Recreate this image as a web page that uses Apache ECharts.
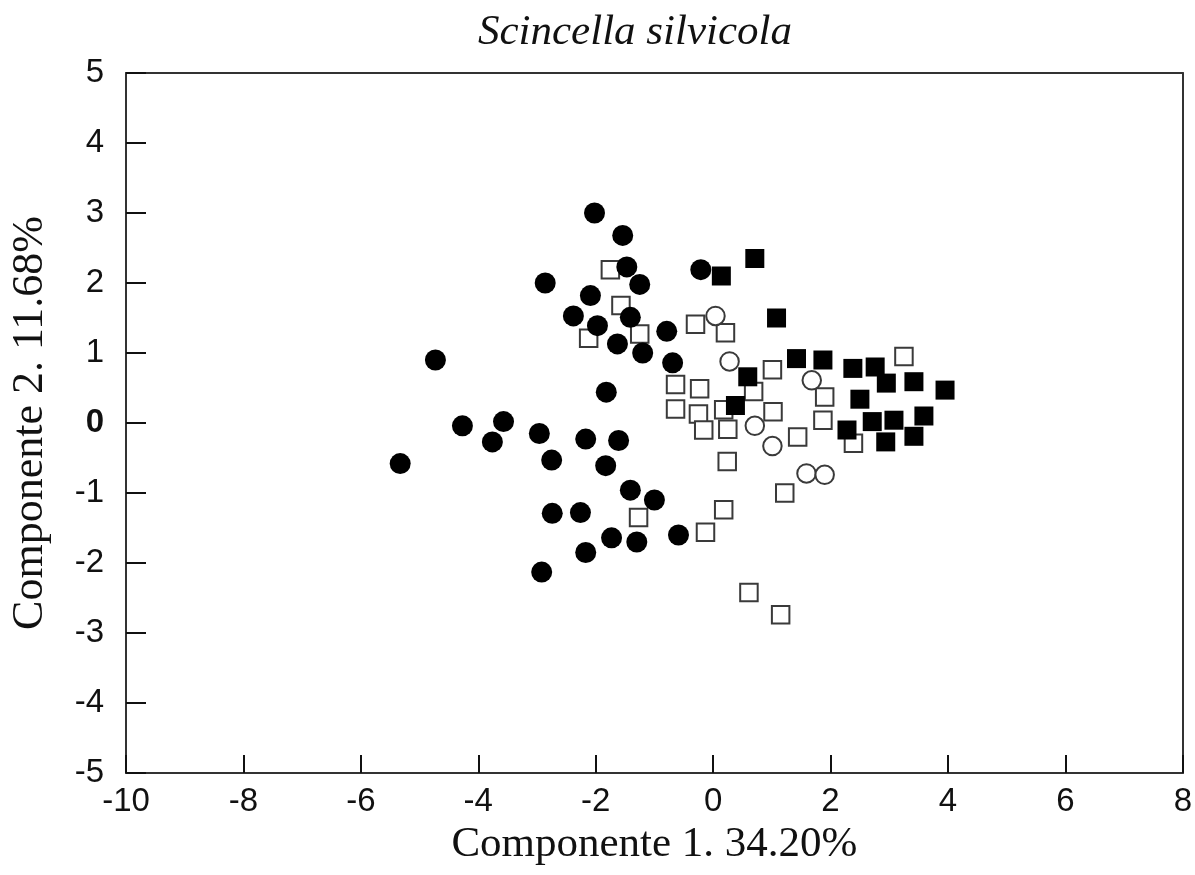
<!DOCTYPE html>
<html>
<head>
<meta charset="utf-8">
<script src="https://cdn.jsdelivr.net/npm/echarts@6/dist/echarts.min.js"></script>
<style>
  html, body { margin: 0; padding: 0; background: #fff; }
  #chart { width: 1195px; height: 875px; }
</style>
</head>
<body>
<div id="chart"></div>
<script>
// PCA scores (Componente 1, Componente 2) for each group of specimens
const filledCircles = [
  [-2.02, 3.0], [-1.54, 2.68], [-1.47, 2.23], [-1.25, 1.98], [-2.86, 2.0],
  [-2.09, 1.82], [-2.38, 1.53], [-1.41, 1.51], [-1.97, 1.39], [-0.79, 1.31],
  [-1.63, 1.13], [-1.2, 1.0], [-0.69, 0.86], [-0.21, 2.19], [-4.73, 0.9],
  [-1.82, 0.44], [-4.27, -0.04], [-3.57, 0.02], [-3.76, -0.27], [-2.96, -0.15],
  [-2.17, -0.23], [-1.61, -0.25], [-2.75, -0.53], [-1.83, -0.61], [-5.33, -0.58],
  [-1.41, -0.96], [-1.0, -1.1], [-2.74, -1.29], [-2.26, -1.28], [-1.73, -1.64],
  [-1.3, -1.7], [-0.59, -1.6], [-2.17, -1.85], [-2.92, -2.13]
];
const openSquares = [
  [-1.75, 2.19], [-1.57, 1.68], [-2.12, 1.21], [-1.25, 1.27], [-0.30, 1.41],
  [0.21, 1.29], [1.01, 0.76], [0.69, 0.45], [1.90, 0.37], [3.25, 0.95],
  [-0.64, 0.55], [-0.23, 0.49], [-0.64, 0.20], [-0.25, 0.13], [0.18, 0.19],
  [1.02, 0.16], [-0.16, -0.10], [0.25, -0.09], [1.44, -0.20], [1.87, 0.04],
  [2.39, -0.29], [0.24, -0.55], [1.22, -1.0], [0.18, -1.24], [-1.27, -1.35],
  [-0.13, -1.56], [0.61, -2.42], [1.15, -2.74]
];
const openCircles = [
  [0.04, 1.53], [0.28, 0.88], [1.68, 0.61], [0.71, -0.04], [1.01, -0.33],
  [1.59, -0.72], [1.90, -0.74]
];
const filledSquares = [
  [0.14, 2.10], [0.71, 2.35], [1.08, 1.50], [1.42, 0.92], [1.87, 0.90],
  [0.59, 0.66], [2.38, 0.78], [2.76, 0.80], [2.95, 0.57], [3.42, 0.59],
  [3.95, 0.47], [2.50, 0.34], [0.38, 0.25], [2.28, -0.10], [2.71, 0.02],
  [3.08, 0.04], [3.59, 0.10], [2.94, -0.27], [3.42, -0.19]
];

const xRange = { min: -10, max: 8, step: 2 };
const yRange = { min: -5, max: 5, step: 1 };

const titleText = 'Scincella silvicola';
const xTitle = 'Componente 1. 34.20%';
const yTitle = 'Componente 2. 11.68%';

const SANS = '"Liberation Sans", Arial, sans-serif';
const SERIF = '"Liberation Serif", "Times New Roman", serif';
const LINE = '#333';

const chart = echarts.init(document.getElementById('chart'), null, { renderer: 'canvas' });

const frameLine = { show: true, onZero: false, lineStyle: { color: LINE, width: 2 } };

chart.setOption({
  backgroundColor: '#fff',
  animation: false,
  title: {
    text: titleText,
    left: 630,
    top: 6,
    textAlign: 'center',
    textStyle: { fontFamily: SERIF, fontStyle: 'italic', fontWeight: 'normal', fontSize: 43, color: '#111' }
  },
  grid: { left: 121, right: 9, top: 73, bottom: 102, containLabel: false },
  xAxis: [
    {
      type: 'value', position: 'bottom',
      min: xRange.min, max: xRange.max, interval: xRange.step,
      name: xTitle, nameLocation: 'middle', nameGap: 40,
      nameTextStyle: { fontFamily: SERIF, fontSize: 43, color: '#111' },
      axisLine: frameLine,
      axisTick: { show: true, inside: true, length: 18, lineStyle: { color: '#111', width: 2 } },
      axisLabel: { fontFamily: SANS, fontSize: 33, color: '#111', margin: 12 },
      splitLine: { show: false }
    },
    {
      type: 'value', position: 'top',
      min: xRange.min, max: xRange.max, interval: xRange.step,
      axisLine: frameLine, axisTick: { show: false }, axisLabel: { show: false }, splitLine: { show: false }
    }
  ],
  yAxis: [
    {
      type: 'value', position: 'left',
      min: yRange.min, max: yRange.max, interval: yRange.step,
      name: yTitle, nameLocation: 'middle', nameGap: 74, nameRotate: 90,
      nameTextStyle: { fontFamily: SERIF, fontSize: 44, color: '#111' },
      axisLine: frameLine,
      axisTick: { show: true, inside: true, length: 20, lineStyle: { color: '#111', width: 2 } },
      axisLabel: {
        fontFamily: SANS, fontSize: 33, color: '#111', margin: 22,
        formatter: v => (v === 0 ? '{z|0}' : String(v)),
        rich: { z: { fontFamily: SANS, fontSize: 33, fontWeight: 'bold', color: '#111' } }
      },
      splitLine: { show: false }
    },
    {
      type: 'value', position: 'right',
      min: yRange.min, max: yRange.max, interval: yRange.step,
      axisLine: frameLine, axisTick: { show: false }, axisLabel: { show: false }, splitLine: { show: false }
    }
  ],
  series: [
    {
      type: 'scatter', data: openSquares, symbol: 'rect', symbolSize: 17.5, z: 2,
      itemStyle: { color: '#fff', borderColor: '#3a3a3a', borderWidth: 2, opacity: 1 }
    },
    {
      type: 'scatter', data: openCircles, symbol: 'circle', symbolSize: 18.5, z: 3,
      itemStyle: { color: '#fff', borderColor: '#3a3a3a', borderWidth: 2, opacity: 1 }
    },
    {
      type: 'scatter', data: filledCircles, symbol: 'circle', symbolSize: 21, z: 4,
      itemStyle: { color: '#000', opacity: 1 }
    },
    {
      type: 'scatter', data: filledSquares, symbol: 'rect', symbolSize: 19, z: 5,
      itemStyle: { color: '#000', opacity: 1 }
    }
  ]
});
</script>
</body>
</html>
